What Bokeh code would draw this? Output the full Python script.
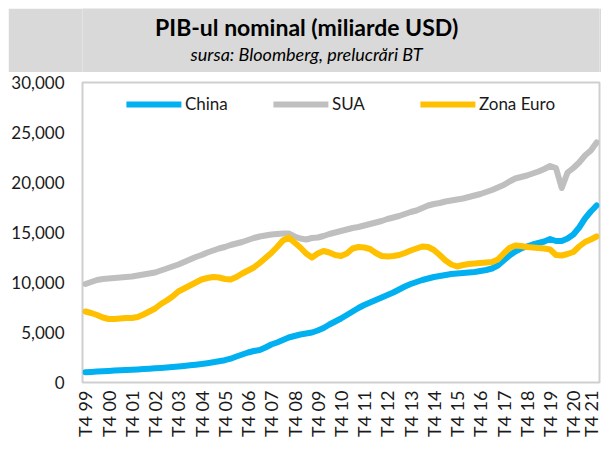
from math import pi
from bokeh.plotting import figure
from bokeh.models import Range1d, FixedTicker, NumeralTickFormatter, Legend, LegendItem, ColumnDataSource
from bokeh.layouts import column
from bokeh.core.properties import value
from bokeh.embed import file_html
from bokeh.resources import INLINE

# Quarterly data, Q4 1999 .. Q4 2021 (89 quarters), billions USD
china = [1030, 1060, 1100, 1130, 1160, 1190, 1220, 1250, 1280, 1310, 1340, 1380,
         1420, 1460, 1500, 1550, 1600, 1660, 1720, 1780, 1850, 1930, 2020, 2120,
         2230, 2380, 2600, 2800, 3000, 3150, 3250, 3500, 3800, 4000, 4250, 4500,
         4650, 4800, 4900, 5000, 5200, 5450, 5800, 6100, 6400, 6750, 7100, 7450,
         7750, 8000, 8250, 8500, 8750, 9000, 9300, 9600, 9850, 10050, 10250, 10400,
         10550, 10650, 10750, 10850, 10900, 10950, 11000, 11050, 11150, 11250, 11400, 11700,
         12200, 12700, 13100, 13400, 13600, 13800, 13950, 14100, 14350, 14150, 14150, 14400,
         14800, 15500, 16400, 17100, 17700]
sua = [9850, 10050, 10250, 10350, 10400, 10450, 10500, 10550, 10600, 10700, 10800, 10900,
       11000, 11200, 11400, 11600, 11800, 12050, 12300, 12550, 12750, 13000, 13200, 13400,
       13550, 13750, 13900, 14050, 14250, 14450, 14600, 14700, 14800, 14850, 14900, 14900,
       14600, 14400, 14300, 14450, 14500, 14650, 14850, 15000, 15150, 15300, 15450, 15550,
       15700, 15850, 16000, 16150, 16350, 16500, 16650, 16850, 17050, 17200, 17450, 17700,
       17850, 17950, 18100, 18200, 18300, 18400, 18550, 18700, 18850, 19050, 19250, 19500,
       19750, 20100, 20400, 20550, 20700, 20900, 21100, 21350, 21650, 21450, 19450, 21000,
       21450, 22000, 22700, 23200, 24000]
zona_euro = [7100, 6950, 6750, 6500, 6350, 6350, 6400, 6450, 6450, 6550, 6800, 7100,
             7400, 7850, 8200, 8600, 9100, 9400, 9700, 10000, 10300, 10450, 10550, 10500,
             10350, 10300, 10550, 10900, 11200, 11500, 11950, 12450, 12950, 13550, 14200, 14500,
             14000, 13500, 12900, 12500, 12900, 13150, 13000, 12750, 12650, 12900, 13400, 13550,
             13500, 13350, 12950, 12650, 12600, 12650, 12750, 12950, 13200, 13400, 13600, 13550,
             13250, 12750, 12200, 11800, 11600, 11750, 11850, 11900, 11950, 12000, 12050, 12300,
             12900, 13450, 13700, 13650, 13550, 13500, 13450, 13400, 13300, 12750, 12700, 12850,
             13050, 13600, 14050, 14300, 14600]
tick_labels = ["T4 99", "T4 00", "T4 01", "T4 02", "T4 03", "T4 04", "T4 05", "T4 06",
               "T4 07", "T4 08", "T4 09", "T4 10", "T4 11", "T4 12", "T4 13", "T4 14",
               "T4 15", "T4 16", "T4 17", "T4 18", "T4 19", "T4 20", "T4 21"]
y_ticks = [0, 5000, 10000, 15000, 20000, 25000, 30000]
series_names = ["China", "SUA", "Zona Euro"]
colors = ["#00B0F0", "#BFBFBF", "#FFC000"]

FONT = "Lato"
n = len(china)
idx = list(range(n))
src = ColumnDataSource(dict(x=idx, china=china, sua=sua, euro=zona_euro))

# Header (its frame is aligned with the chart frame by the column layout,
# so its x range is expressed in figure pixels 72..591)
h = figure(width=593, height=64, output_backend="svg", toolbar_location=None,
           x_range=Range1d(72, 591), y_range=Range1d(0, 64), min_border=0,
           min_border_left=72, min_border_right=2,
           background_fill_color="#D9D9D9", border_fill_color="#D9D9D9")
h.axis.visible = False
h.grid.visible = False
h.outline_line_color = None
h.text(x=[297], y=[46], text=["PIB-ul nominal (miliarde USD)"], text_font=value(FONT),
       text_font_style="bold", text_font_size="23px", text_align="center",
       text_baseline="middle", text_color="#000000")
h.text(x=[297], y=[19], text=["sursa: Bloomberg, prelucrări BT"], text_font=value(FONT),
       text_font_style="italic", text_font_size="18px", text_align="center",
       text_baseline="middle", text_color="#000000")

# Main chart
p = figure(width=593, height=388, output_backend="svg", toolbar_location=None,
           x_range=Range1d(-0.5, n - 0.5), y_range=Range1d(0, 30000),
           min_border_left=72, min_border_right=2, min_border_top=10, min_border_bottom=78)
p.grid.visible = False
p.outline_line_color = "#CFCFCF"
p.outline_line_width = 2

renderers = []
for col, c in zip(["china", "sua", "euro"], colors):
    r = p.line("x", col, source=src, line_color=c, line_width=6,
               line_join="round", line_cap="round")
    renderers.append(r)

p.xaxis.ticker = FixedTicker(ticks=list(range(0, n, 4)))
p.xaxis.major_label_overrides = {i * 4: lab for i, lab in enumerate(tick_labels)}
p.xaxis.major_label_orientation = pi / 2
p.yaxis.ticker = FixedTicker(ticks=y_ticks)
p.yaxis.formatter = NumeralTickFormatter(format="0,0")
for ax in (p.xaxis, p.yaxis):
    ax.axis_line_color = None
    ax.major_tick_line_color = None
    ax.minor_tick_line_color = None
    ax.major_tick_out = 0
    ax.major_tick_in = 0
    ax.major_label_text_font = FONT
    ax.major_label_text_font_size = "17px"
    ax.major_label_text_color = "#1a1a1a"
p.xaxis.major_label_text_font_size = "18px"
p.yaxis.major_label_standoff = 18
p.xaxis.major_label_standoff = 8

legend = Legend(items=[LegendItem(label=nm, renderers=[r]) for nm, r in zip(series_names, renderers)],
                orientation="horizontal", location="top_center",
                glyph_width=55, glyph_height=20, label_width=76, label_standoff=4,
                spacing=12, padding=4, margin=11,
                border_line_color=None, background_fill_alpha=0,
                label_text_font=FONT, label_text_font_size="17px", label_text_color="#1a1a1a")
p.add_layout(legend)

layout = column(h, p, spacing=0, margin=(8, 0, 0, 8))
open("out.html", "w").write(file_html(layout, INLINE))
